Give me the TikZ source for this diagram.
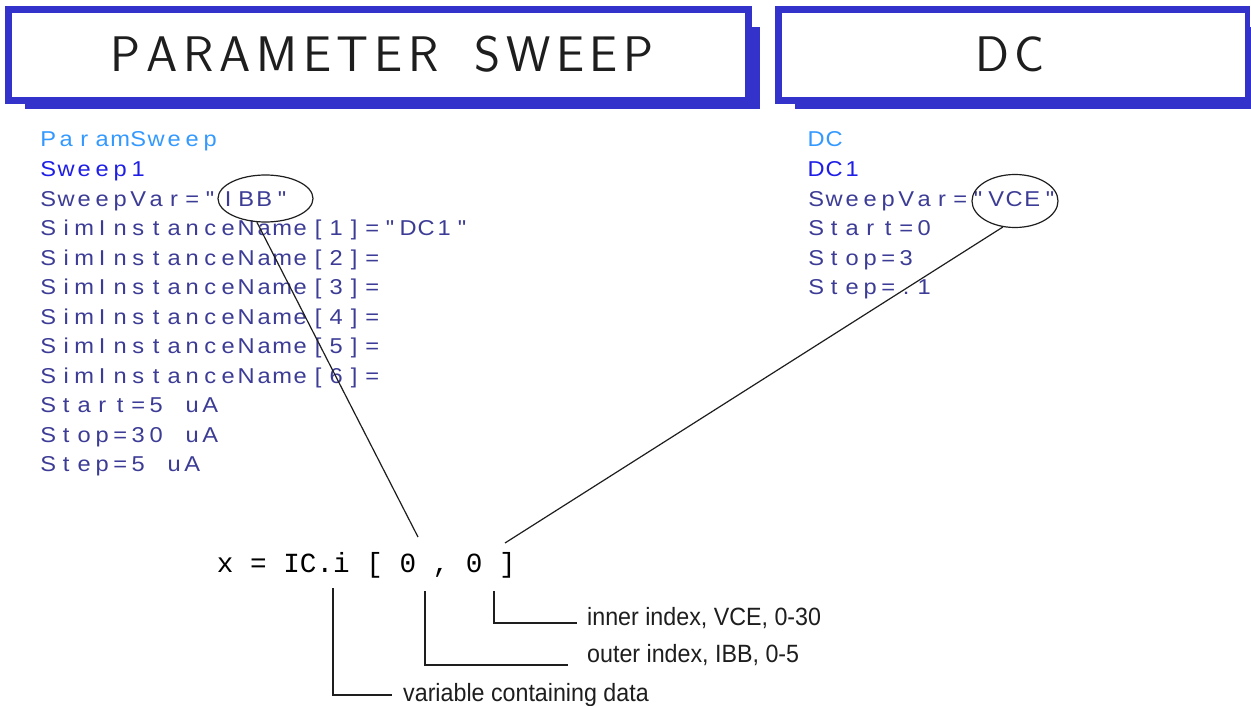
\documentclass[tikz,border=0pt]{standalone}
\usepackage{fontspec}
\usetikzlibrary{shapes.geometric}
\newfontfamily\labfont{Liberation Sans}[FakeStretch=0.93]
\newfontfamily\codefont{Liberation Mono}
\newfontfamily\cellfont{Liberation Sans}[FakeStretch=1.1]
\definecolor{boxblue}{RGB}{51,51,204}
\definecolor{lblue}{RGB}{51,153,255}
\definecolor{mblue}{RGB}{30,30,230}
\definecolor{navy}{RGB}{60,60,150}
\definecolor{ink}{RGB}{30,30,30}
\let\mcellend\relax
\def\mcell#1{\mcellloop#1\mcellend}
\def\mcellloop#1{\ifx#1\mcellend\else\makebox[18pt]{#1}\expandafter\mcellloop\fi}
\def\tsp#1{\tsploop#1\mcellend}
\def\tsploop#1{\ifx#1\mcellend\else#1\kern5.7pt\expandafter\tsploop\fi}
\begin{document}
\begin{tikzpicture}[x=1pt,y=-1pt,
  titletxt/.style={anchor=base,inner sep=0pt,text=ink,
    font={\sffamily\fontsize{50}{60}\selectfont}},
  pl/.style={anchor=base west,inner sep=0pt,text=navy,
    font={\cellfont\fontsize{21.5}{25}\selectfont}},
  ell/.style={ellipse,draw=ink,line width=1.2pt,inner sep=0pt},
  conn/.style={draw=ink,line width=1.2pt},
  lab/.style={anchor=base west,inner sep=0pt,text=ink,
    font={\labfont\fontsize{25}{30}\selectfont}},
  code/.style={anchor=base west,inner sep=0pt,text=black,
    font={\codefont\fontsize{27.67}{32}\selectfont}}]
\path[use as bounding box] (0,0) rectangle (1251,706);
\fill[white] (0,0) rectangle (1251,706);
% box PARAMETER SWEEP
\fill[boxblue] (25,27) rectangle (760,109);
\fill[boxblue] (5,6) rectangle (752,104);
\fill[white] (12,13) rectangle (745,97);
% box DC
\fill[boxblue] (795,27) rectangle (1258,109);
\fill[boxblue] (775,6) rectangle (1250,104);
\fill[white] (782,13) rectangle (1245,97);
\node[titletxt] (t1) at (385,72) {\tsp{PARAMETER}\hspace{30pt}\tsp{SWEEP}};
\node[titletxt] (t2) at (1013,72) {\tsp{DC}};
% left column
\node[pl,text=lblue] (p0) at (39,147) {\mcell{ParamSweep}};
\node[pl,text=mblue] (p1) at (39,176.5) {\mcell{Sweep1}};
\node[pl] (p2) at (39,206) {\mcell{SweepVar="IBB"}};
\node[pl] (p3) at (39,235.5) {\mcell{SimInstanceName[1]="DC1"}};
\node[pl] (p4) at (39,265) {\mcell{SimInstanceName[2]=}};
\node[pl] (p5) at (39,294.5) {\mcell{SimInstanceName[3]=}};
\node[pl] (p6) at (39,324) {\mcell{SimInstanceName[4]=}};
\node[pl] (p7) at (39,353.5) {\mcell{SimInstanceName[5]=}};
\node[pl] (p8) at (39,383) {\mcell{SimInstanceName[6]=}};
\node[pl] (p9) at (39,412.5) {\mcell{Start=5~uA}};
\node[pl] (p10) at (39,442) {\mcell{Stop=30~uA}};
\node[pl] (p11) at (39,471.5) {\mcell{Step=5~uA}};
% right column
\node[pl,text=lblue] (d0) at (807,147) {\mcell{DC}};
\node[pl,text=mblue] (d1) at (807,176.5) {\mcell{DC1}};
\node[pl] (d2) at (807,206) {\mcell{SweepVar="VCE"}};
\node[pl] (d3) at (807,235.5) {\mcell{Start=0}};
\node[pl] (d4) at (807,265) {\mcell{Stop=3}};
\node[pl] (d5) at (807,294.5) {\mcell{Step=.1}};
% ellipses
\node[ell,minimum width=95pt,minimum height=47pt] (e1) at (265.5,198.5) {};
\node[ell,minimum width=86pt,minimum height=53pt] (e2) at (1015,201) {};
% formula
\node[code] (fx) at (216.7,572) {x = IC.i [ 0 , 0 ]};
\coordinate (f1) at (418,537);
\coordinate (f2) at (505,543);
\draw[conn] (e1.250) -- (f1);
\draw[conn] (e2.245) -- (f2);
% labels
\node[lab] (l3) at (587,625) {inner index, VCE, 0-30};
\node[lab] (l2) at (587,662) {outer index, IBB, 0-5};
\node[lab] (l1) at (403,701) {variable containing data};
\coordinate (a1) at (333,588);
\coordinate (b1) at (392,695);
\coordinate (a2) at (425,591);
\coordinate (b2) at (568,665);
\coordinate (a3) at (494,591);
\coordinate (b3) at (577,623);
\draw[conn] (a1) |- (b1);
\draw[conn] (a2) |- (b2);
\draw[conn] (a3) |- (b3);
\end{tikzpicture}
\end{document}
